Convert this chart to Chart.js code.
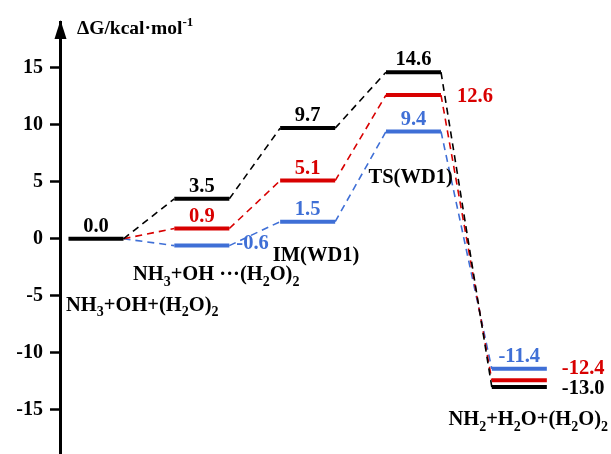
<!DOCTYPE html>
<html><head><meta charset="utf-8">
<script src="https://cdn.jsdelivr.net/npm/chart.js@4"></script>
<style>html,body{margin:0;padding:0;background:#fff;overflow:hidden}canvas{display:block}</style>
</head><body><canvas id="c" width="611" height="454" style="width:611px;height:454px"></canvas>
<script>
// ---- data ----
const stages = ['NH{3}+OH+(H{2}O){2}', 'NH{3}+OH ···(H{2}O){2}', 'IM(WD1)', 'TS(WD1)', 'NH{2}+H{2}O+(H{2}O){2}'];
const blackValues = [0.0, 3.5, 9.7, 14.6, -13.0];
const redValues   = [0.0, 0.9, 5.1, 12.6, -12.4];
const blueValues  = [0.0, -0.6, 1.5, 9.4, -11.4];
const yTickValues = [15, 10, 5, 0, -5, -10, -15];
const yTitle = 'ΔG/kcal·mol^{-1}';

// ---- styles / layout ----
const COLORS = {black: '#000000', red: '#d80000', blue: '#3f6fd6'};
const HW = 0.26;          // half width of a level, in stage units
const FONT = '"Liberation Serif", "Times New Roman", serif';
const LABEL_SIZE = 20.5;

const valuePlacement = [
  ['black',0,'above'],['black',1,'above'],['black',2,'above'],['black',3,'above'],['black',4,'right',15,6.5],
  ['red',1,'above'],['red',2,'above'],['red',3,'right',16,7],['red',4,'right',15,-6],
  ['blue',1,'right',7,3],['blue',2,'above'],['blue',3,'above'],['blue',4,'above']
];
const stageAnchor = [[-0.283,-6.3],[0.349,-3.65],[1.67,-1.95],[2.575,4.88],[3.33,-16.35]];

function levelPoints(vals){
  const pts=[];
  vals.forEach((v,i)=>{pts.push({x:i-HW,y:v});pts.push({x:i+HW,y:v});});
  return pts;
}
function mkDataset(label, vals, color, hideFirst){
  return {
    label, data: levelPoints(vals), borderColor: color, backgroundColor: color,
    pointRadius: 0, pointHoverRadius: 0, borderWidth: 4, borderCapStyle: 'butt', tension: 0, fill: false,
    segment: {
      borderDash: c => c.p0DataIndex % 2 === 1 ? [7,5] : [],
      borderWidth: c => c.p0DataIndex % 2 === 1 ? 1.6 : 4,
      borderColor: c => (hideFirst && c.p0DataIndex === 0) ? 'rgba(0,0,0,0)' : color
    }
  };
}

function parseRich(s){
  const out=[]; let i=0, buf='';
  while(i<s.length){
    if(s[i]==='^' && s[i+1]==='{'){ if(buf){out.push({t:buf,m:0});buf='';} const j=s.indexOf('}',i); out.push({t:s.slice(i+2,j),m:2}); i=j+1; }
    else if(s[i]==='{'){ if(buf){out.push({t:buf,m:0});buf='';} const j=s.indexOf('}',i); out.push({t:s.slice(i+1,j),m:1}); i=j+1; }
    else { buf+=s[i]; i++; }
  }
  if(buf) out.push({t:buf,m:0});
  return out;
}
function drawRich(ctx, s, x, y, size, color, align){
  const parts=parseRich(s);
  const fonts=[`bold ${size}px ${FONT}`, `bold ${Math.round(size*0.68)}px ${FONT}`, `bold ${Math.round(size*0.66)}px ${FONT}`];
  const offs=[0, size*0.28, -size*0.42];
  let w=0; parts.forEach(p=>{ctx.font=fonts[p.m]; p.w=ctx.measureText(p.t).width; w+=p.w;});
  let cx = align==='center' ? x-w/2 : (align==='right' ? x-w : x);
  ctx.fillStyle=color; ctx.textBaseline='alphabetic'; ctx.textAlign='left';
  parts.forEach(p=>{ctx.font=fonts[p.m]; ctx.fillText(p.t,cx,y+offs[p.m]); cx+=p.w;});
}

const seriesValues = {black: blackValues, red: redValues, blue: blueValues};

const annot = {
  id: 'annot',
  afterDatasetsDraw(chart){
    const ctx=chart.ctx, xs=chart.scales.x, ys=chart.scales.y, ca=chart.chartArea;
    ctx.save();
    const ax = ca.left;
    // extend the axis line to the bottom edge (aligned like Chart.js's 3px border)
    const bx = Math.round(ax - 1.5) + 1.5;
    ctx.strokeStyle='#000'; ctx.lineWidth=3;
    ctx.beginPath(); ctx.moveTo(bx, ca.bottom-2); ctx.lineTo(bx, chart.height); ctx.stroke();
    // arrow head
    ctx.fillStyle='#000';
    ctx.beginPath(); ctx.moveTo(bx, ca.top-2); ctx.lineTo(bx-6, ca.top+17); ctx.lineTo(bx+6, ca.top+17); ctx.closePath(); ctx.fill();
    drawRich(ctx, yTitle, ax+17, ca.top+12, 19.5, '#000', 'left');
    valuePlacement.forEach(([s,i,where,dx,dy])=>{
      const v=seriesValues[s][i];
      const txt=v.toFixed(1);
      const py=ys.getPixelForValue(v);
      if(where==='above'){
        drawRich(ctx, txt, xs.getPixelForValue(i), py-7, LABEL_SIZE, COLORS[s], 'center');
      } else {
        drawRich(ctx, txt, xs.getPixelForValue(i+HW)+dx, py+dy, LABEL_SIZE, COLORS[s], 'left');
      }
    });
    stages.forEach((t,i)=>{
      const [sx,sy]=stageAnchor[i];
      drawRich(ctx, t, xs.getPixelForValue(sx), ys.getPixelForValue(sy), LABEL_SIZE, '#000', 'left');
    });
    ctx.restore();
  }
};

new Chart(document.getElementById('c'), {
  type: 'line',
  data: { datasets: [
    mkDataset('black', blackValues, COLORS.black, false),
    mkDataset('red', redValues, COLORS.red, true),
    mkDataset('blue', blueValues, COLORS.blue, true)
  ]},
  options: {
    responsive: false, animation: false, devicePixelRatio: 1,
    layout: {autoPadding: false, padding: {top: 22, right: 7, bottom: 0, left: 0}},
    plugins: {legend: {display: false}, tooltip: {enabled: false}},
    events: [],
    clip: false,
    scales: {
      x: {type: 'linear', min: -0.34, max: 4.8, display: false},
      y: {
        min: -17.2, max: 19,
        afterBuildTicks: s => { s.ticks = yTickValues.map(v => ({value: v})); },
        afterFit: s => { s.width = 60; },
        border: {display: true, color: '#000', width: 3},
        grid: {display: true, drawOnChartArea: false, drawTicks: true, tickLength: 10, tickWidth: 2.5, tickColor: '#000'},
        ticks: {color: '#000', font: {family: FONT, size: 20, weight: 'bold'}, padding: 7, callback: v => String(v)}
      }
    }
  },
  plugins: [annot]
});
</script></body></html>
